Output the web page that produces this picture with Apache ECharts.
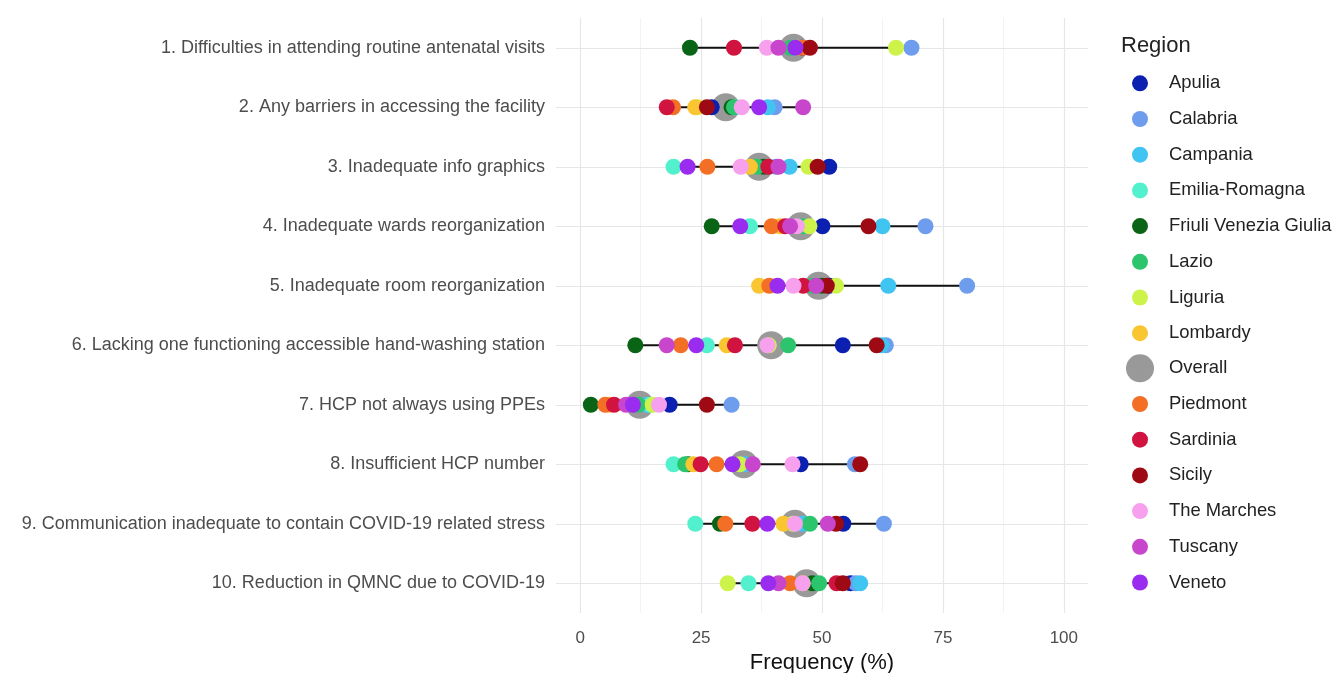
<!DOCTYPE html>
<html>
<head>
<meta charset="utf-8">
<script src="https://cdn.jsdelivr.net/npm/echarts@6/dist/echarts.min.js"></script>
<style>
  html, body { margin: 0; padding: 0; background: #ffffff; }
  #chart { width: 1335px; height: 673px; }
</style>
</head>
<body>
<div id="chart"></div>
<script>
// ---------- DATA ----------
const categories = [
  '1. Difficulties in attending routine antenatal visits',
  '2. Any barriers in accessing the facility',
  '3. Inadequate info graphics',
  '4. Inadequate wards reorganization',
  '5. Inadequate room reorganization',
  '6. Lacking one functioning accessible hand-washing station',
  '7. HCP not always using PPEs',
  '8. Insufficient HCP number',
  '9. Communication inadequate to contain COVID-19 related stress',
  '10. Reduction in QMNC due to COVID-19'
];

const regions = ['Apulia', 'Calabria', 'Campania', 'Emilia-Romagna', 'Friuli Venezia Giulia', 'Lazio',
  'Liguria', 'Lombardy', 'Piedmont', 'Sardinia', 'Sicily', 'The Marches', 'Tuscany', 'Veneto'];

const xTickLabels = [0, 25, 50, 75, 100];

// values (%) per region, one per category (rows 1..10)
const apulia     = [45.8, 27.2, 51.5, 50.1, 51.5, 54.3, 18.5, 45.6, 54.4, 55.9];
const calabria   = [68.5, 40.2, 40.5, 71.4, 80.0, 63.2, 31.3, 56.8, 62.8, 57.0];
const campania   = [44.0, 38.8, 43.3, 62.5, 63.7, 62.3, 13.8, 34.0, 46.0, 57.9];
const emilia     = [44.5, 32.0, 19.3, 35.1, 50.5, 26.2, 14.5, 19.3, 23.8, 34.8];
const friuli     = [22.7, 31.3, 38.0, 27.2, 50.0, 11.4, 2.2, 22.3, 28.9, 48.0];
const lazio      = [43.5, 31.8, 36.5, 46.0, 48.0, 43.0, 12.0, 21.7, 47.5, 49.4];
const liguria    = [65.3, 24.3, 47.2, 47.4, 52.9, 39.0, 15.0, 33.0, 44.0, 30.5];
const lombardy   = [45.0, 23.8, 35.1, 41.3, 37.0, 30.3, 6.0, 23.4, 42.0, 46.0];
const piedmont   = [46.0, 19.2, 26.3, 39.6, 39.1, 20.8, 5.2, 28.2, 30.0, 43.4];
const sardinia   = [31.8, 17.9, 38.9, 42.4, 46.1, 32.0, 7.0, 24.9, 35.6, 53.0];
const sicily     = [47.5, 26.2, 49.1, 59.6, 51.0, 61.3, 26.2, 57.9, 52.9, 54.3];
const marches    = [38.6, 33.4, 33.2, 44.8, 44.1, 38.7, 16.3, 43.9, 44.4, 46.0];
const tuscany    = [41.0, 46.1, 41.0, 43.4, 48.8, 17.9, 9.5, 35.7, 51.2, 41.0];
const veneto     = [44.5, 37.0, 22.2, 33.1, 40.8, 24.0, 10.9, 31.5, 38.7, 38.9];
const overall    = [44.1, 30.1, 37.0, 45.6, 49.3, 39.5, 12.3, 33.8, 44.4, 46.8];

// ---------- STYLES ----------
const regionColors = {
  'Apulia': '#0b1fb0',
  'Calabria': '#6f9ded',
  'Campania': '#40c4f2',
  'Emilia-Romagna': '#52f0cc',
  'Friuli Venezia Giulia': '#0a6416',
  'Lazio': '#2dc46e',
  'Liguria': '#cdf24a',
  'Lombardy': '#f9c531',
  'Piedmont': '#f36f26',
  'Sardinia': '#d1143f',
  'Sicily': '#9e0a14',
  'The Marches': '#f6a0ee',
  'Tuscany': '#c846cc',
  'Veneto': '#9a2cf0'
};
const FONT = '"Liberation Sans", Arial, sans-serif';

// ---------- BUILD ----------
const regionValues = {
  'Apulia': apulia, 'Calabria': calabria, 'Campania': campania, 'Emilia-Romagna': emilia,
  'Friuli Venezia Giulia': friuli, 'Lazio': lazio, 'Liguria': liguria, 'Lombardy': lombardy,
  'Piedmont': piedmont, 'Sardinia': sardinia, 'Sicily': sicily, 'The Marches': marches,
  'Tuscany': tuscany, 'Veneto': veneto
};

const rangeData = categories.map((c, i) => {
  const vals = regions.map(r => regionValues[r][i]);
  return [Math.min.apply(null, vals), Math.max.apply(null, vals), i];
});

// grid lines
const gridLines = [];
for (let v = 0; v <= 100; v += 12.5) {
  const major = xTickLabels.indexOf(v) >= 0;
  gridLines.push({ xAxis: v, lineStyle: { color: major ? '#e6e6e6' : '#f0f0f0', width: major ? 1.2 : 0.8, type: 'solid' } });
}
categories.forEach(c => {
  gridLines.push({ yAxis: c, lineStyle: { color: '#e6e6e6', width: 1.2, type: 'solid' } });
});

const series = [
  {
    name: '__grid', type: 'line', data: [], z: 0, silent: true,
    markLine: { silent: true, z: 0, symbol: ['none', 'none'], label: { show: false }, animation: false, data: gridLines }
  },
  {
    name: '__range', type: 'custom', z: 1, silent: true,
    data: rangeData,
    encode: { x: [0, 1], y: 2 },
    renderItem: function (params, api) {
      const a = api.coord([api.value(0), api.value(2)]);
      const b = api.coord([api.value(1), api.value(2)]);
      return { type: 'line', shape: { x1: a[0], y1: a[1], x2: b[0], y2: b[1] }, style: { stroke: '#111111', lineWidth: 2.2 } };
    }
  },
  {
    name: 'Overall', type: 'scatter', z: 2, symbol: 'circle', symbolSize: 28,
    itemStyle: { color: '#999999', opacity: 1 },
    data: overall.map((v, i) => [v, categories[i]])
  }
];
regions.forEach(r => {
  series.push({
    name: r, type: 'scatter', z: 3, symbol: 'circle', symbolSize: 16,
    itemStyle: { color: regionColors[r], opacity: 1 },
    data: regionValues[r].map((v, i) => [v, categories[i]])
  });
});

const legendCommon = {
  orient: 'vertical', left: 1132, padding: 0, icon: 'circle', selectedMode: false,
  itemWidth: 48, itemHeight: 16, itemGap: 17.7,
  textStyle: { fontFamily: FONT, fontSize: 18.4, color: '#222222', lineHeight: 18 }
};

const option = {
  backgroundColor: '#ffffff',
  animation: false,
  textStyle: { fontFamily: FONT },
  title: [
    { text: 'Region', left: 1121, top: 35, padding: 0,
      textStyle: { fontFamily: FONT, fontSize: 22, fontWeight: 'normal', color: '#222222' } }
  ],
  legend: [
    Object.assign({}, legendCommon, { top: 74.3, data: regions.slice(0, 8) }),
    Object.assign({}, legendCommon, { top: 354.3, left: 1126, itemHeight: 28, data: ['Overall'] }),
    Object.assign({}, legendCommon, { top: 395, data: regions.slice(8) })
  ],
  grid: { left: 556, right: 247, top: 18, bottom: 60, containLabel: false, outerBoundsMode: 'none' },
  xAxis: {
    type: 'value', min: -5, max: 105, interval: 2.5,
    name: 'Frequency (%)', nameLocation: 'middle', nameGap: 37,
    nameTextStyle: { fontFamily: FONT, fontSize: 22, color: '#111111' },
    axisLine: { show: false }, axisTick: { show: false }, splitLine: { show: false },
    axisLabel: {
      margin: 17, fontFamily: FONT, fontSize: 17, color: '#4d4d4d',
      formatter: function (v) { return xTickLabels.indexOf(v) >= 0 ? String(v) : ''; }
    }
  },
  yAxis: {
    type: 'category', data: categories, inverse: true,
    axisLine: { show: false }, axisTick: { show: false }, splitLine: { show: false },
    axisLabel: { margin: 11, fontFamily: FONT, fontSize: 18, color: '#4d4d4d' }
  },
  series: series
};

const chart = echarts.init(document.getElementById('chart'), null, { renderer: 'canvas' });
chart.setOption(option);
</script>
</body>
</html>
